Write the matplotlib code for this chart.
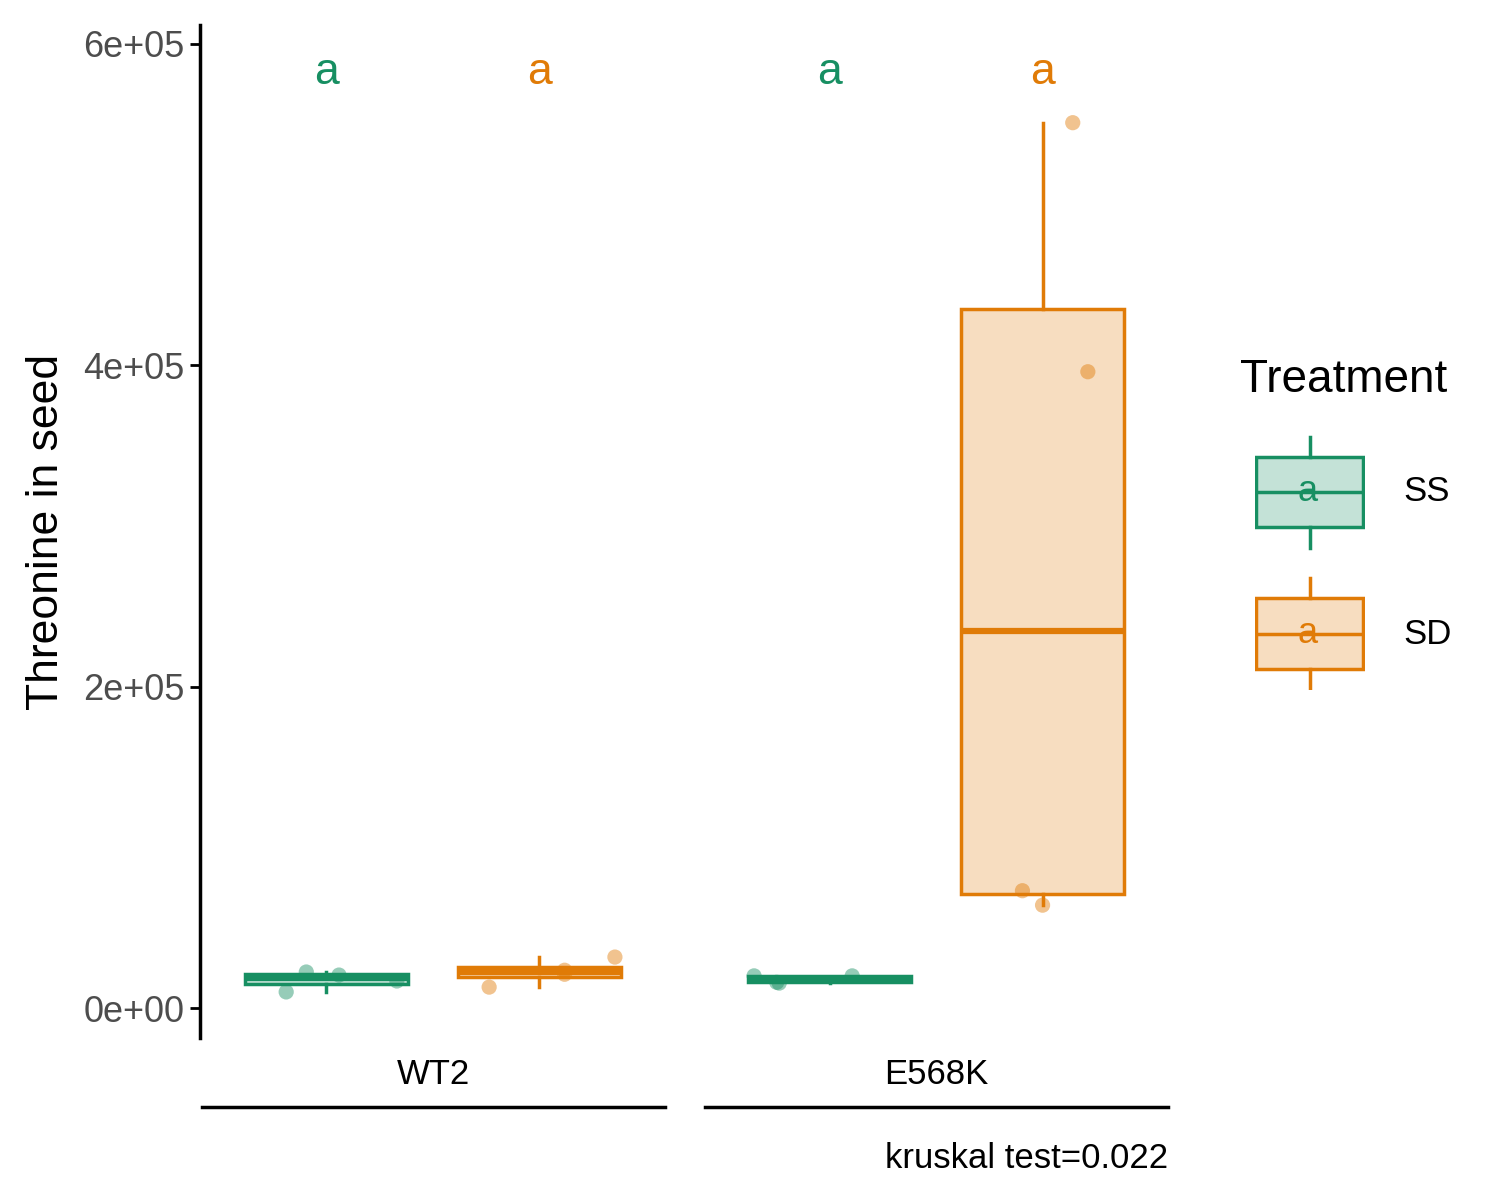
import matplotlib
matplotlib.use("Agg")
import matplotlib.pyplot as plt
from matplotlib.patches import Rectangle
import numpy as np

plt.rcParams['font.family'] = ['Liberation Sans', 'DejaVu Sans']

genotypes = ["WT2", "E568K"]
treatments = ["SS", "SD"]
values = {
    ("WT2", "SS"): [10000, 22400, 20500, 16800],
    ("WT2", "SD"): [13000, 21000, 23500, 31700],
    ("E568K", "SS"): [20000, 15500, 16000, 20000],
    ("E568K", "SD"): [551000, 396000, 73000, 64000],
}
jitter = {
    ("WT2", "SS"): [-0.08, -0.04, 0.025, 0.14],
    ("WT2", "SD"): [-0.1, 0.05, 0.05, 0.15],
    ("E568K", "SS"): [-0.15, -0.1, -0.105, 0.045],
    ("E568K", "SD"): [0.06, 0.09, -0.04, 0.0],
}
letters = ["a", "a", "a", "a"]
pvalue_text = "kruskal test=0.022"
colors = {"SS": "#178f62", "SD": "#e07b07"}

fig = plt.figure(figsize=(15, 12), dpi=100)
ax = fig.add_axes([200/1500, 1-1038/1200, 970/1500, (1038-25)/1200])
off = 0.2117
bw = 0.324
k = 0
for gi, g in enumerate(genotypes):
    for ti, t in enumerate(treatments):
        pos = gi + (-off if ti == 0 else off)
        c = colors[t]
        ax.boxplot([values[(g, t)]], positions=[pos], widths=bw, patch_artist=True,
                   showfliers=False, whis=1.5, showcaps=False,
                   boxprops=dict(facecolor=matplotlib.colors.to_rgba(c, 0.25), edgecolor=c, linewidth=2.5),
                   medianprops=dict(color=c, linewidth=4.5),
                   whiskerprops=dict(color=c, linewidth=2.5))
        xs = pos + np.array(jitter[(g, t)])
        ax.scatter(xs, values[(g, t)], s=120, color=c, alpha=0.45, edgecolors='none', zorder=3)
        ax.text(pos, 582000, letters[k], color=c, fontsize=32, ha='center', va='center')
        k += 1

ax.set_xlim(-0.463, 1.465)
ax.set_ylim(-18670, 611800)
ax.set_yticks([0, 2e5, 4e5, 6e5])
ax.set_yticklabels(["0e+00", "2e+05", "4e+05", "6e+05"])
ax.tick_params(axis='y', labelsize=26, labelcolor='#4d4d4d', width=2, length=7, pad=4)
ax.set_xticks([])
for s in ['top', 'right', 'bottom']:
    ax.spines[s].set_visible(False)
ax.spines['left'].set_linewidth(2.5)
ax.set_ylabel("Threonine in seed", fontsize=32, labelpad=12)

for gi, g in enumerate(genotypes):
    xc = (433 + gi * 503) / 1500
    fig.text(xc, 1 - 1075/1200, g, ha='center', va='center', fontsize=25)
for x0 in [202, 705]:
    fig.add_artist(plt.Line2D([x0/1500, (x0+463)/1500], [1-1107/1200]*2, color='black', lw=2.5))
fig.text(1168/1500, 1 - 1158/1200, pvalue_text, ha='right', va='center', fontsize=25)

fig.text(1240/1500, 1 - 380/1200, "Treatment", fontsize=33, ha='left', va='center')
lax = fig.add_axes([1255/1500, 1-690/1200, 110/1500, 255/1200])
lax.set_xlim(1255, 1365)
lax.set_ylim(690, 435)
lax.axis('off')
keys = [("SS", 437, 457, 492, 527, 548), ("SD", 578, 598, 634, 669, 690)]
for t, wt, bt, md, bb, wb in keys:
    c = colors[t]
    lax.plot([1310, 1310], [wt, bt], color=c, lw=2.5)
    lax.plot([1310, 1310], [bb, wb], color=c, lw=2.5)
    lax.add_patch(Rectangle((1256, bt), 107, bb - bt, facecolor=matplotlib.colors.to_rgba(c, 0.25), edgecolor=c, lw=2.5))
    lax.plot([1256, 1363], [md, md], color=c, lw=2.5)
    lax.text(1308, md, "a", color=c, fontsize=26, ha='center', va='center')
    fig.text(1403/1500, 1 - md/1200, t, fontsize=25, ha='left', va='center')

fig.savefig("out.png", dpi=100)
